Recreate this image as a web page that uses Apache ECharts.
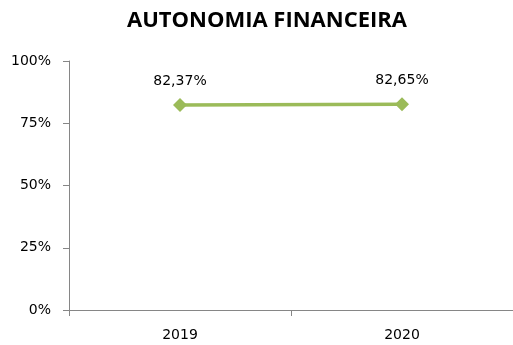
<!DOCTYPE html>
<html>
<head>
<meta charset="utf-8">
<script src="https://cdn.jsdelivr.net/npm/echarts@6/dist/echarts.min.js"></script>
<style>
  html, body { margin: 0; padding: 0; background: #fff; }
  #chart { width: 513px; height: 345px; }
</style>
</head>
<body>
<div id="chart"></div>
<script>
// Financial autonomy ratio by year (percent)
const years = ['2019', '2020'];
const autonomia = [82.37, 82.65];
const yTicks = ['0%', '25%', '50%', '75%', '100%'];

const chart = echarts.init(document.getElementById('chart'));
chart.setOption({
  animation: false,
  title: {
    text: 'AUTONOMIA FINANCEIRA',
    left: 122,
    top: 5,
    textStyle: { fontFamily: 'Open Sans', fontWeight: 'bold', fontSize: 22, color: '#000' }
  },
  grid: { left: 69, right: 0, top: 61, bottom: 35 },
  xAxis: {
    type: 'category',
    data: years,
    boundaryGap: true,
    axisLine: { lineStyle: { color: '#868686', width: 1 } },
    axisTick: { show: true, length: 6, lineStyle: { color: '#868686' } },
    axisLabel: { margin: 18, fontFamily: 'DejaVu Sans', fontSize: 14, color: '#000' }
  },
  yAxis: {
    type: 'value',
    min: 0,
    max: 100,
    interval: 25,
    splitLine: { show: false },
    axisLine: { show: true, lineStyle: { color: '#868686', width: 1 } },
    axisTick: { show: true, length: 6, lineStyle: { color: '#868686' } },
    axisLabel: {
      margin: 18,
      fontFamily: 'DejaVu Sans',
      fontSize: 14,
      color: '#000',
      formatter: v => yTicks[Math.round(v / 25)]
    }
  },
  series: [{
    type: 'line',
    data: autonomia,
    symbol: 'diamond',
    symbolSize: 14,
    lineStyle: { color: '#9BBB59', width: 3.5 },
    itemStyle: { color: '#9BBB59' },
    label: {
      show: true,
      position: 'top',
      distance: 10,
      fontFamily: 'DejaVu Sans',
      fontSize: 14,
      color: '#000',
      formatter: p => p.value.toFixed(2).replace('.', ',') + '%'
    }
  }]
});
</script>
</body>
</html>
